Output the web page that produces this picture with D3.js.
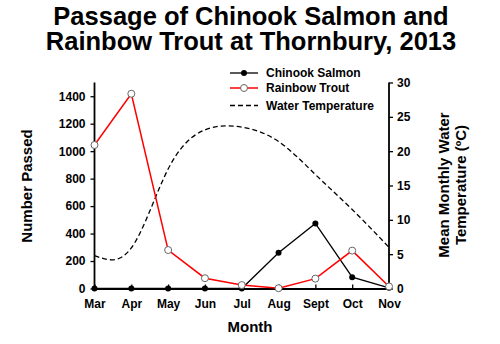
<!DOCTYPE html>
<html>
<head>
<meta charset="utf-8">
<script src="https://cdn.jsdelivr.net/npm/d3@7"></script>
<style>
  body { margin: 0; background: #fff; }
  svg { display: block; }
  text { font-family: Arial, "Liberation Sans", sans-serif; font-weight: bold; fill: #000; }
</style>
</head>
<body>
<svg id="chart" width="500" height="344"></svg>
<script>
const months = ["Mar", "Apr", "May", "Jun", "Jul", "Aug", "Sept", "Oct", "Nov"];
const chinook = [0, 0, 0, 0, 0, 260, 474, 82, 5];
const rainbow = [1045, 1418, 280, 75, 25, 2, 72, 276, 15];
const waterTemp = [4.8, 5.9, 17.4, 23.1, 23.5, 21.4, 16.6, 11.5, 6.0];
const leftTicks = [0, 200, 400, 600, 800, 1000, 1200, 1400];
const rightTicks = [0, 5, 10, 15, 20, 25, 30];
const titleLines = ["Passage of Chinook Salmon and", "Rainbow Trout at Thornbury, 2013"];

const svg = d3.select("#chart");
const x = d3.scalePoint().domain(months).range([94.5, 389]);
const yL = d3.scaleLinear().domain([0, 1500]).range([288.5, 82.5]);
const yR = d3.scaleLinear().domain([0, 30]).range([288.5, 82.5]);

// Title
svg.append("g").selectAll("text").data(titleLines).join("text")
  .attr("x", 251).attr("y", (d, i) => 24.5 + i * 25.5)
  .attr("text-anchor", "middle").style("font-size", "25.5px").text(d => d);

// Axes
const gx = svg.append("g").attr("transform", "translate(0,288.5)")
  .call(d3.axisBottom(x).tickSizeInner(-4).tickSizeOuter(0).tickPadding(10.5));
const gl = svg.append("g").attr("transform", "translate(94.5,0)")
  .call(d3.axisLeft(yL).tickValues(leftTicks).tickFormat(d3.format("d")).tickSizeInner(4).tickSizeOuter(0).tickPadding(5));
const gr = svg.append("g").attr("transform", "translate(389,0)")
  .call(d3.axisRight(yR).tickValues(rightTicks).tickFormat(d3.format("d")).tickSizeInner(4).tickSizeOuter(0).tickPadding(4));
[gx, gl, gr].forEach(g => {
  g.selectAll("path.domain").attr("stroke", "#000").attr("stroke-width", 1.8);
  g.selectAll(".tick line").attr("stroke", "#000").attr("stroke-width", 1.3);
  g.selectAll("text").style("font-size", "12px").style("font-family", "Arial, 'Liberation Sans', sans-serif").style("font-weight", "bold").attr("fill", "#000");
});
gl.select("path.domain").attr("d", `M0,${yL(1500)}V${yL(0)}`);
gr.select("path.domain").attr("d", `M0,${yR(30)}V${yR(0)}`);

// Axis titles
svg.append("text").attr("x", 250).attr("y", 332).attr("text-anchor", "middle").style("font-size", "15px").text("Month");
svg.append("text").attr("transform", "translate(32,186) rotate(-90)").attr("text-anchor", "middle").style("font-size", "15px").text("Number Passed");
svg.append("text").attr("transform", "translate(448.5,185) rotate(-90)").attr("text-anchor", "middle").style("font-size", "15px").text("Mean Monthly Water");
svg.append("text").attr("transform", "translate(465.5,185) rotate(-90)").attr("text-anchor", "middle").style("font-size", "15px").text("Temperature (ºC)");

// Water temperature
const tempLine = d3.line().x((d, i) => x(months[i])).y(d => yR(d)).curve(d3.curveNatural);
svg.append("path").datum(waterTemp).attr("d", tempLine)
  .attr("fill", "none").attr("stroke", "#000").attr("stroke-width", 1.3).attr("stroke-dasharray", "5,3");

// Chinook
const lineL = d3.line().x((d, i) => x(months[i])).y(d => yL(d));
svg.append("path").datum(chinook).attr("d", lineL).attr("fill", "none").attr("stroke", "#000").attr("stroke-width", 1.3);
// Rainbow
svg.append("path").datum(rainbow).attr("d", lineL).attr("fill", "none").attr("stroke", "#ff0000").attr("stroke-width", 1.5);

svg.append("g").selectAll("circle").data(chinook).join("circle")
  .attr("cx", (d, i) => x(months[i])).attr("cy", d => yL(d)).attr("r", 3).attr("fill", "#000");
svg.append("g").selectAll("circle").data(rainbow).join("circle")
  .attr("cx", (d, i) => x(months[i])).attr("cy", d => yL(d)).attr("r", 3.5)
  .attr("fill", "#fff").attr("stroke", "#666").attr("stroke-width", 1);

// Legend
const legend = svg.append("g");
const items = [
  { name: "Chinook Salmon", color: "#000", marker: "filled", dash: null, y: 73 },
  { name: "Rainbow Trout", color: "#ff0000", marker: "open", dash: null, y: 88 },
  { name: "Water Temperature", color: "#000", marker: null, dash: "5,3", y: 105.5 }
];
items.forEach(it => {
  legend.append("line").attr("x1", 230).attr("x2", 258).attr("y1", it.y).attr("y2", it.y)
    .attr("stroke", it.color).attr("stroke-width", it.color === "#000" ? 1.3 : 1.5)
    .attr("stroke-dasharray", it.dash);
  if (it.marker === "filled") legend.append("circle").attr("cx", 244).attr("cy", it.y).attr("r", 3).attr("fill", "#000");
  if (it.marker === "open") legend.append("circle").attr("cx", 244).attr("cy", it.y).attr("r", 3.5).attr("fill", "#fff").attr("stroke", "#666");
  legend.append("text").attr("x", 266).attr("y", it.y + 4.3).style("font-size", "12px").text(it.name);
});
</script>
</body>
</html>
